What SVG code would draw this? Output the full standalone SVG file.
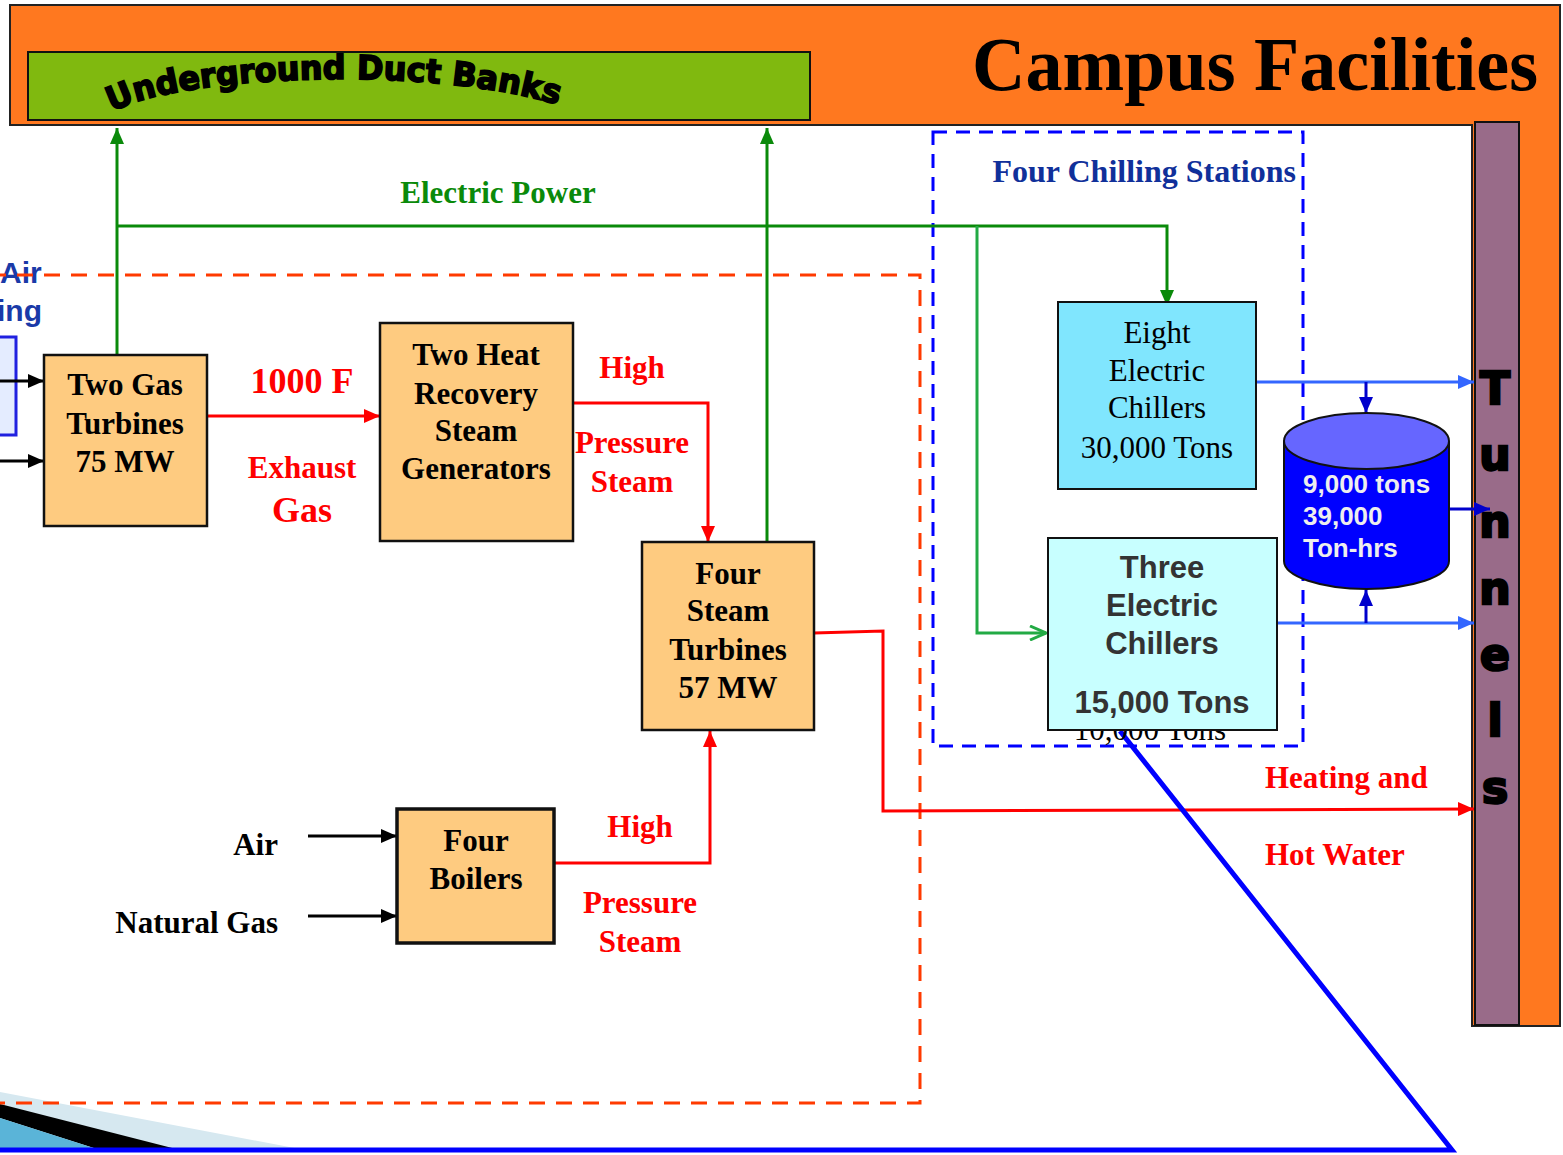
<svg xmlns="http://www.w3.org/2000/svg" width="1563" height="1155" viewBox="0 0 1563 1155">
<style>
.serif{font-family:"Liberation Serif","Times New Roman",serif;font-weight:bold;font-size:31px;text-anchor:middle}
.reg{font-weight:normal}
.red{fill:#ff0000}
.blk{fill:#000}
.box{fill:#fecb80;stroke:#111;stroke-width:2.5}
.sans{font-family:"Liberation Sans",Arial,sans-serif;font-weight:bold}
.tun{font-family:"DejaVu Sans",sans-serif;font-weight:bold;font-size:44px;text-anchor:middle;fill:#000;stroke:#000;stroke-width:2.5}
</style>
<defs>
<marker id="aGreen" viewBox="0 0 16 14" refX="16" refY="7" markerWidth="16" markerHeight="14" markerUnits="userSpaceOnUse" orient="auto"><path d="M0,0 L16,7 L0,14 z" fill="#0a8a0a"/></marker>
<marker id="aGreen2" viewBox="0 0 18 16" refX="17" refY="8" markerWidth="18" markerHeight="16" markerUnits="userSpaceOnUse" orient="auto"><path d="M1,1 L17,8 L1,15" fill="none" stroke="#22aa44" stroke-width="3"/></marker>
<marker id="aRed" viewBox="0 0 16 14" refX="16" refY="7" markerWidth="16" markerHeight="14" markerUnits="userSpaceOnUse" orient="auto"><path d="M0,0 L16,7 L0,14 z" fill="#ff0000"/></marker>
<marker id="aBlack" viewBox="0 0 16 14" refX="16" refY="7" markerWidth="16" markerHeight="14" markerUnits="userSpaceOnUse" orient="auto"><path d="M0,0 L16,7 L0,14 z" fill="#000"/></marker>
<marker id="aBlue" viewBox="0 0 16 14" refX="16" refY="7" markerWidth="16" markerHeight="14" markerUnits="userSpaceOnUse" orient="auto"><path d="M0,0 L16,7 L0,14 z" fill="#3366ff"/></marker>
<marker id="aDBlue" viewBox="0 0 16 14" refX="16" refY="7" markerWidth="16" markerHeight="14" markerUnits="userSpaceOnUse" orient="auto"><path d="M0,0 L16,7 L0,14 z" fill="#0000cc"/></marker>
<path id="arch" d="M112,112 C180,74 440,64 568,108"/>
</defs>
<rect width="1563" height="1155" fill="#fff"/>

<!-- bottom-left decoration -->
<polygon points="0,1092 305,1150 0,1150" fill="#d6e8f0"/>
<polygon points="0,1104 180,1150 100,1150 0,1118" fill="#000"/>
<polygon points="0,1118 100,1150 0,1150" fill="#5ab4d8"/>

<!-- frame -->
<g id="campus-frame">
<path d="M10,5 H1560 V1026 H1472 V125 H10 Z" fill="#ff781f" stroke="#222" stroke-width="2"/>
<text x="1538" y="90" font-family="'Liberation Serif','Times New Roman',serif" font-weight="bold" font-size="76" text-anchor="end" textLength="566" lengthAdjust="spacingAndGlyphs">Campus Facilities</text>
</g>
<g id="duct-banks">
<rect x="28" y="52" width="782" height="68" fill="#80b90f" stroke="#111" stroke-width="2"/>
<text font-family="'DejaVu Sans',sans-serif" font-weight="bold" font-size="33" fill="#000" stroke="#000" stroke-width="1.8"><textPath href="#arch" textLength="452" lengthAdjust="spacingAndGlyphs">Underground Duct Banks</textPath></text>
</g>
<g id="tunnels">
<rect x="1475" y="122" width="44" height="903" fill="#996b89" stroke="#111" stroke-width="2"/>
<text class="tun" x="1495" y="404">T</text>
<text class="tun" x="1495" y="470">u</text>
<text class="tun" x="1495" y="537">n</text>
<text class="tun" x="1495" y="604">n</text>
<text class="tun" x="1495" y="670">e</text>
<text class="tun" x="1495" y="736">l</text>
<text class="tun" x="1495" y="803">s</text>
</g>

<!-- left partial items -->
<g id="air-conditioning">
<text x="0" y="283" class="sans" font-size="30" fill="#1a3aa8">Air</text>
<text x="-3" y="321" class="sans" font-size="30" fill="#1a3aa8">ing</text>
<rect x="-10" y="337" width="26" height="98" fill="#e4ecff" stroke="#2020e0" stroke-width="3"/>
</g>

<!-- regions -->
<rect id="plant-region" x="-10" y="275" width="930" height="828" fill="none" stroke="#ff3a00" stroke-width="3" stroke-dasharray="16,11"/>
<g id="chilling-stations">
<rect x="933" y="132" width="370" height="614" fill="none" stroke="#0000ff" stroke-width="3" stroke-dasharray="14,9"/>
<text x="1296" y="182" class="serif" style="text-anchor:end;font-size:32px" fill="#10309a">Four Chilling Stations</text>
</g>

<!-- connectors -->
<g id="connectors" fill="none">
<polyline points="117,355 117,128" stroke="#0a8a0a" stroke-width="3" marker-end="url(#aGreen)"/>
<polyline points="767,542 767,128" stroke="#0a8a0a" stroke-width="3" marker-end="url(#aGreen)"/>
<polyline points="117,226 1167,226 1167,306" stroke="#0a8a0a" stroke-width="3" marker-end="url(#aGreen)"/>
<polyline points="977,226 977,633 1046,633" stroke="#22aa44" stroke-width="3" marker-end="url(#aGreen2)"/>
<line x1="197" y1="416" x2="380" y2="416" stroke="#ff0000" stroke-width="3" marker-end="url(#aRed)"/>
<polyline points="573,403 708,403 708,542" stroke="#ff0000" stroke-width="3" marker-end="url(#aRed)"/>
<polyline points="814,633 883,631 883,811 1474,809" stroke="#ff0000" stroke-width="3" marker-end="url(#aRed)"/>
<polyline points="554,863 710,863 710,731" stroke="#ff0000" stroke-width="3" marker-end="url(#aRed)"/>
<line x1="0" y1="381" x2="44" y2="381" stroke="#000" stroke-width="3" marker-end="url(#aBlack)"/>
<line x1="0" y1="461" x2="44" y2="461" stroke="#000" stroke-width="3" marker-end="url(#aBlack)"/>
<line x1="308" y1="836" x2="397" y2="836" stroke="#000" stroke-width="3" marker-end="url(#aBlack)"/>
<line x1="308" y1="916" x2="397" y2="916" stroke="#000" stroke-width="3" marker-end="url(#aBlack)"/>
<line x1="1256" y1="382" x2="1474" y2="382" stroke="#3366ff" stroke-width="3" marker-end="url(#aBlue)"/>
<line x1="1366" y1="382" x2="1366" y2="413" stroke="#0000cc" stroke-width="3" marker-end="url(#aDBlue)"/>
<line x1="1449" y1="509" x2="1490" y2="509" stroke="#0000cc" stroke-width="3" marker-end="url(#aDBlue)"/>
<line x1="1277" y1="623" x2="1474" y2="623" stroke="#3366ff" stroke-width="3" marker-end="url(#aBlue)"/>
<line x1="1366" y1="623" x2="1366" y2="590" stroke="#0000cc" stroke-width="3" marker-end="url(#aDBlue)"/>
<polyline points="1120,731 1452,1150 0,1150" stroke="#0000ff" stroke-width="5"/>
</g>

<!-- labels -->
<g id="labels">
<text x="498" y="203" class="serif" fill="#0a8a0a">Electric Power</text>
<text x="302" y="393" class="serif red" style="font-size:36px">1000 F</text>
<text x="302" y="478" class="serif red">Exhaust</text>
<text x="302" y="522" class="serif red" style="font-size:36px">Gas</text>
<text x="632" y="378" class="serif red">High</text>
<text x="632" y="453" class="serif red">Pressure</text>
<text x="632" y="492" class="serif red">Steam</text>
<text x="640" y="837" class="serif red">High</text>
<text x="640" y="913" class="serif red">Pressure</text>
<text x="640" y="952" class="serif red">Steam</text>
<text x="1265" y="788" class="serif red" style="text-anchor:start">Heating and</text>
<text x="1265" y="865" class="serif red" style="text-anchor:start">Hot Water</text>
<text x="278" y="855" class="serif" style="text-anchor:end">Air</text>
<text x="278" y="933" class="serif" style="text-anchor:end">Natural Gas</text>
</g>

<!-- nodes -->
<g id="gas-turbines">
<rect class="box" x="44" y="355" width="163" height="171"/>
<text class="serif" x="125" y="395">Two Gas</text>
<text class="serif" x="125" y="434">Turbines</text>
<text class="serif" x="125" y="472">75 MW</text>
</g>
<g id="hrsg">
<rect class="box" x="380" y="323" width="193" height="218"/>
<text class="serif" x="476" y="365">Two Heat</text>
<text class="serif" x="476" y="404">Recovery</text>
<text class="serif" x="476" y="441">Steam</text>
<text class="serif" x="476" y="479">Generators</text>
</g>
<g id="steam-turbines">
<rect class="box" x="642" y="542" width="172" height="188"/>
<text class="serif" x="728" y="584">Four</text>
<text class="serif" x="728" y="621">Steam</text>
<text class="serif" x="728" y="660">Turbines</text>
<text class="serif" x="728" y="698">57 MW</text>
</g>
<g id="boilers">
<rect class="box" x="397" y="809" width="157" height="134" style="stroke-width:3.5"/>
<text class="serif" x="476" y="851">Four</text>
<text class="serif" x="476" y="889">Boilers</text>
</g>
<g id="eight-chillers">
<rect x="1058" y="302" width="198" height="187" fill="#80e6fe" stroke="#111" stroke-width="2"/>
<text class="serif reg" x="1157" y="343">Eight</text>
<text class="serif reg" x="1157" y="381">Electric</text>
<text class="serif reg" x="1157" y="418">Chillers</text>
<text class="serif reg" x="1157" y="458">30,000 Tons</text>
</g>
<g id="three-chillers">
<text class="serif reg" x="1150" y="740">10,000 Tons</text>
<rect x="1048" y="538" width="229" height="192" fill="#c8ffff" stroke="#111" stroke-width="2"/>
<text class="sans" x="1162" y="578" font-size="31" text-anchor="middle" fill="#333">Three</text>
<text class="sans" x="1162" y="616" font-size="31" text-anchor="middle" fill="#333">Electric</text>
<text class="sans" x="1162" y="654" font-size="31" text-anchor="middle" fill="#333">Chillers</text>
<text class="sans" x="1162" y="713" font-size="31" text-anchor="middle" fill="#333">15,000 Tons</text>
</g>
<g id="storage-tank">
<path d="M1284,441 V561 A82.5,28 0 0 0 1449,561 V441" fill="#0000ff" stroke="#111" stroke-width="2"/>
<ellipse cx="1366.5" cy="441" rx="82.5" ry="28" fill="#6666ff" stroke="#111" stroke-width="2"/>
<text class="sans" x="1303" y="493" font-size="26" fill="#eeeeee">9,000 tons</text>
<text class="sans" x="1303" y="525" font-size="26" fill="#eeeeee">39,000</text>
<text class="sans" x="1303" y="557" font-size="26" fill="#eeeeee">Ton-hrs</text>
</g>
</svg>
